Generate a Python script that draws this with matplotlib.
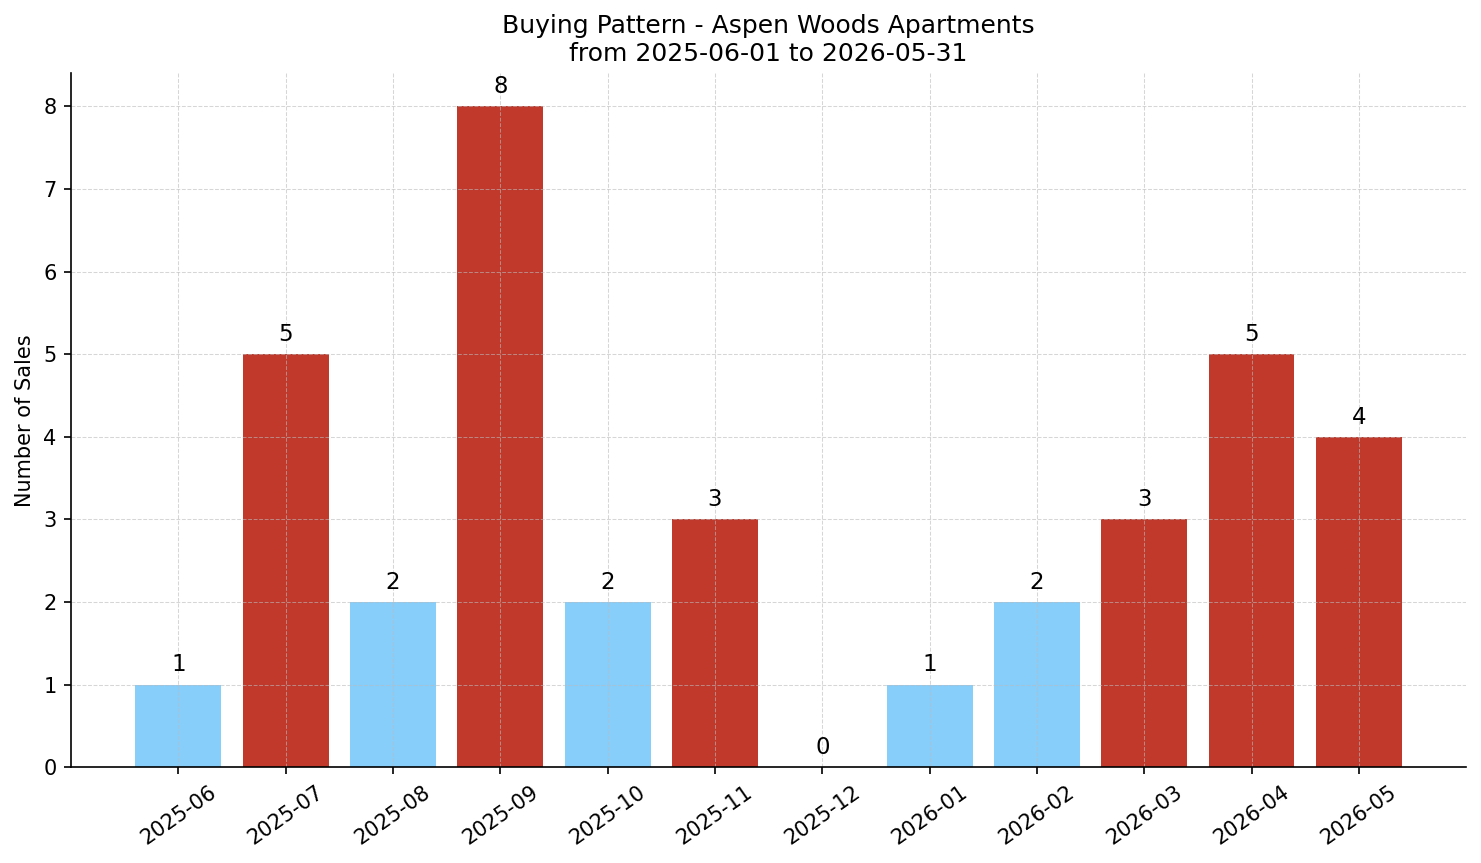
import matplotlib
matplotlib.use("Agg")
import matplotlib.pyplot as plt
import numpy as np

months = ['2025-06', '2025-07', '2025-08', '2025-09', '2025-10', '2025-11',
          '2025-12', '2026-01', '2026-02', '2026-03', '2026-04', '2026-05']
sales = [1, 5, 2, 8, 2, 3, 0, 1, 2, 3, 5, 4]

blue = '#87CEFA'
red = '#C0392B'
colors = [red if s >= 3 else blue for s in sales]

fig, ax = plt.subplots(figsize=(1481 / 150, 863 / 150), dpi=150)
x = np.arange(len(months))
bars = ax.bar(x, sales, width=0.8, color=colors)

for xi, s in zip(x, sales):
    ax.text(xi, s + 0.1, str(s), ha='center', va='bottom', fontsize=11)

ax.set_xticks(x)
ax.set_xticklabels(months, rotation=35, fontsize=10)
ax.tick_params(axis='y', labelsize=10)
ax.set_xlim(-1, 12)
ax.set_ylim(0, max(sales) * 1.05)
ax.set_ylabel('Number of Sales', fontsize=10)
ax.set_title('Buying Pattern - Aspen Woods Apartments\nfrom 2025-06-01 to 2026-05-31', fontsize=12)
ax.grid(True, linestyle='--', color='#bbbbbb', linewidth=0.5, alpha=0.6)
ax.spines['top'].set_visible(False)
ax.spines['right'].set_visible(False)

fig.subplots_adjust(left=0.048, right=0.99, top=0.915, bottom=0.111)
fig.savefig('out.png', dpi=150)
